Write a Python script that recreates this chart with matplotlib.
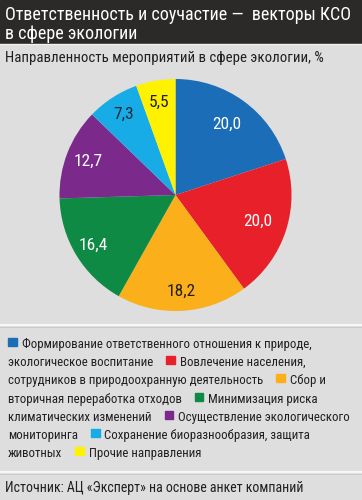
import matplotlib
matplotlib.use("Agg")
import matplotlib.pyplot as plt
import numpy as np
from matplotlib import font_manager
from matplotlib.ft2font import FT2Font
from matplotlib.patches import Rectangle

# ---- data ----
title_lines = ["Ответственность и соучастие —  векторы КСО", "в сфере экологии"]
subtitle = "Направленность мероприятий в сфере экологии, %"
source = "Источник: АЦ «Эксперт» на основе анкет компаний"
categories = [
    "Формирование ответственного отношения к природе, экологическое воспитание",
    "Вовлечение населения, сотрудников в природоохранную деятельность",
    "Сбор и вторичная переработка отходов",
    "Минимизация риска климатических изменений",
    "Осуществление экологического мониторинга",
    "Сохранение биоразнообразия, защита животных",
    "Прочие направления",
]
values = [20.0, 20.0, 18.2, 16.4, 12.7, 7.3, 5.5]
value_labels = ["20,0", "20,0", "18,2", "16,4", "12,7", "7,3", "5,5"]
colors = ["#1b6db8", "#e8202a", "#fbaf1a", "#0f8a45", "#7b2a8c", "#17ace6", "#fff200"]
label_colors = ["white", "white", "#231f20", "white", "white", "#1c2a3a", "#231f20"]
label_radius = [0.75, 0.75, 0.83, 0.83, 0.81, 0.83, 0.81]

# ---- fonts: pick a condensed family with Cyrillic ----
names = {f.name for f in font_manager.fontManager.ttflist}
FONT = dict(family="DejaVu Sans", stretch="condensed")
for cand in ["Roboto Condensed", "PT Sans Narrow", "Liberation Sans Narrow",
             "Fira Sans Condensed", "IBM Plex Sans Condensed", "Ubuntu Condensed",
             "Open Sans Condensed", "Arial Narrow"]:
    if cand in names:
        try:
            path = font_manager.findfont(font_manager.FontProperties(family=cand),
                                         fallback_to_default=False)
            ft = FT2Font(path)
            if all(ft.get_char_index(ord(c)) for c in "жЭщ«»—"):
                FONT = dict(family=cand)
                break
        except Exception:
            pass

W, H = 362, 500
BG = "#dedede"
TXT = "#231f20"
fig = plt.figure(figsize=(W / 100, H / 100), dpi=100)
fig.patch.set_facecolor(BG)
ov = fig.add_axes([0, 0, 1, 1])
ov.set_xlim(0, W)
ov.set_ylim(H, 0)
ov.axis("off")
renderer = fig.canvas.get_renderer()


def width_of(t):
    return t.get_window_extent(renderer).width


def fit(t, target):
    t.set_fontsize(t.get_fontsize() * target / width_of(t))


# header
ov.add_patch(Rectangle((0, 0), W, 43, color="#2b2a29", zorder=1))
t1 = ov.text(5, 20, title_lines[0], color="white", fontsize=13, va="baseline", zorder=2, **FONT)
fit(t1, 345)
t2 = ov.text(5, 39, title_lines[1], color="white", fontsize=t1.get_fontsize(), va="baseline", zorder=2, **FONT)
ov.add_line(plt.Line2D([0, W], [44, 44], color="#f2f2f2", lw=1, zorder=2))
st = ov.text(5, 62, subtitle, color=TXT, fontsize=11, va="baseline", zorder=2, **FONT)
fit(st, 317)

# separators
for y in (325, 472):
    ov.add_line(plt.Line2D([0, W], [y, y], color="#f7f7f7", lw=1.6, zorder=2))
    ov.add_line(plt.Line2D([0, W], [y + 1.5, y + 1.5], color="#c8c8c8", lw=0.6, zorder=2))

# legend flow layout
probe = ov.text(0, 0, "Формирование ответственного отношения к природе,", fontsize=10, **FONT)
fit(probe, 290)
lfs = probe.get_fontsize()
probe.remove()


def wmeas(s):
    t = ov.text(0, 0, s, fontsize=lfs, **FONT)
    w = width_of(t)
    t.remove()
    return w


left, right = 8, 358
base0, lstep = 348, 18.2
sq, gap, catgap = 8.5, 5, 13
line = 0
line_end = left  # x where content on the current line ends
for i, (cat, col) in enumerate(zip(categories, colors)):
    words = cat.split()
    sx = line_end + (catgap if line_end > left else 0)
    if sx + sq + gap + wmeas(words[0]) > right:
        line += 1
        sx = left
    yb = base0 + line * lstep
    ov.add_patch(Rectangle((sx, yb - 10), sq, 8, color=col, zorder=3))
    seg_x = sx + sq + gap
    seg = [words[0]]
    for wd in words[1:]:
        if seg_x + wmeas(" ".join(seg + [wd])) > right:
            ov.text(seg_x, base0 + line * lstep, " ".join(seg), fontsize=lfs, color=TXT,
                    va="baseline", zorder=3, **FONT)
            line += 1
            seg_x = left
            seg = [wd]
        else:
            seg.append(wd)
    ov.text(seg_x, base0 + line * lstep, " ".join(seg), fontsize=lfs, color=TXT,
            va="baseline", zorder=3, **FONT)
    line_end = seg_x + wmeas(" ".join(seg))

src = ov.text(5, 492, source, color=TXT, fontsize=lfs, va="baseline", zorder=3, **FONT)
fit(src, 300)

# pie
cx, cy, r = 175.5, 195, 116
pax = fig.add_axes([(cx - r) / W, 1 - (cy + r) / H, 2 * r / W, 2 * r / H])
wedges, _ = pax.pie(values, colors=colors, startangle=90, counterclock=False,
                    wedgeprops=dict(linewidth=0))
pax.set_xlim(-1, 1)
pax.set_ylim(-1, 1)
pax.set_aspect("equal")
for w, lab, lc, lr in zip(wedges, value_labels, label_colors, label_radius):
    ang = np.deg2rad((w.theta1 + w.theta2) / 2)
    pax.text(lr * np.cos(ang), lr * np.sin(ang), lab, ha="center", va="center",
             color=lc, fontsize=12.5, **FONT)

fig.savefig("out.png", dpi=100, facecolor=BG)
